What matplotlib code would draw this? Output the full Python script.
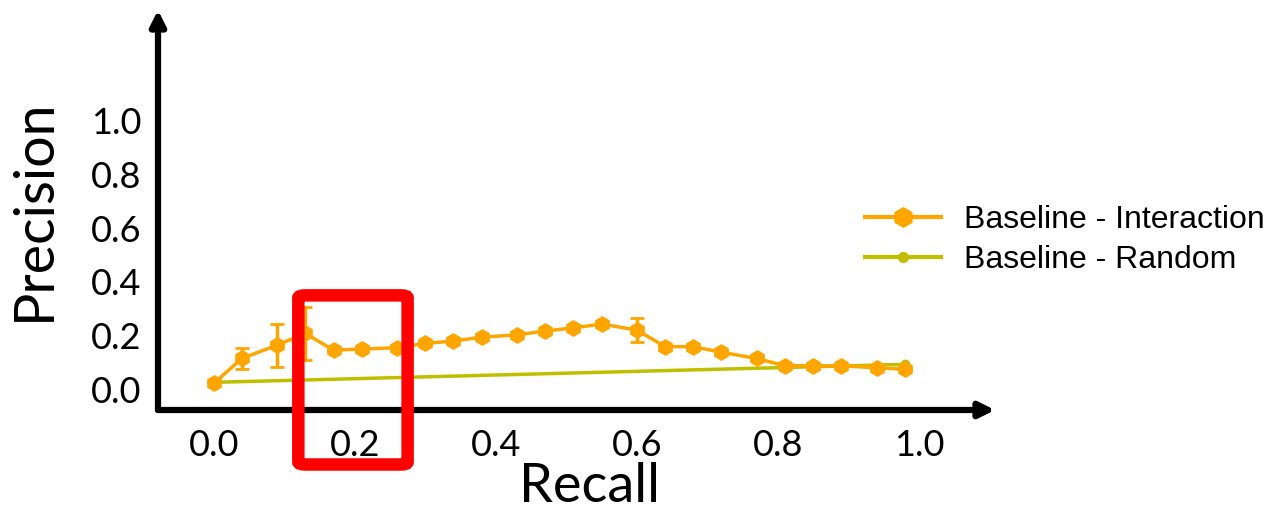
import matplotlib
matplotlib.use("Agg")
import matplotlib.pyplot as plt
import matplotlib.patheffects as pe
from matplotlib.patches import FancyBboxPatch
from matplotlib.lines import Line2D

# precision / recall curve, interaction baseline
recall = [0.00, 0.04, 0.09, 0.13, 0.17, 0.21, 0.26, 0.30, 0.34, 0.38, 0.43, 0.47,
          0.51, 0.55, 0.60, 0.64, 0.68, 0.72, 0.77, 0.81, 0.85, 0.89, 0.94, 0.98]
prec_inter = [0.022, 0.115, 0.165, 0.208, 0.146, 0.150, 0.155, 0.171, 0.180, 0.194, 0.203, 0.217,
              0.229, 0.243, 0.221, 0.159, 0.159, 0.138, 0.115, 0.088, 0.088, 0.088, 0.080, 0.075]
err_inter = [0, 0.04, 0.08, 0.10, 0, 0, 0, 0, 0, 0, 0, 0,
             0, 0, 0.045, 0, 0, 0, 0, 0, 0, 0, 0, 0]

# random baseline
recall_rand = [0.00, 0.98]
prec_rand = [0.026, 0.093]

ticks = [0.0, 0.2, 0.4, 0.6, 0.8, 1.0]
tick_labels = ["0.0", "0.2", "0.4", "0.6", "0.8", "1.0"]

orange = "#FFA500"
olive = "#BFBF00"

fig = plt.figure(figsize=(12.72, 5.19), dpi=100)
ax = fig.add_axes([158/1272, 109/519, 837/1272, 400/519])
ax.set_xlim(-0.079, 1.108)
ax.set_ylim(-0.077, 1.413)

ax.errorbar(recall, prec_inter, yerr=err_inter, color=orange, marker="h", markersize=11,
            lw=2.5, elinewidth=2.5, capsize=5, capthick=2, zorder=3)
ax.plot(recall_rand, prec_rand, color=olive, marker="o", markersize=6, lw=2.5, zorder=2)

for s in ax.spines.values():
    s.set_visible(False)

# arrow-headed axes with a soft shadow
arrow = dict(arrowstyle="-|>,head_length=0.9,head_width=0.45", color="black", lw=4.5,
             shrinkA=0, shrinkB=0)
a1 = ax.annotate("", xy=(1, 0), xytext=(0, 0), xycoords="axes fraction", arrowprops=arrow)
a2 = ax.annotate("", xy=(0, 1), xytext=(0, 0), xycoords="axes fraction", arrowprops=arrow)
for a in (a1, a2):
    a.arrow_patch.set_path_effects([pe.SimplePatchShadow(offset=(1.5, -1.5), alpha=0.4), pe.Normal()])

tick_font = dict(family=["Lato", "DejaVu Sans"], fontsize=26, color="black")
ax.set_xticks(ticks)
ax.set_xticklabels(tick_labels, **tick_font)
ax.set_yticks(ticks)
ax.set_yticklabels(tick_labels, **tick_font)
ax.tick_params(length=0)
ax.tick_params(axis="x", pad=14)
ax.tick_params(axis="y", pad=12)

ax.set_xlabel("Recall", family=["Lato", "DejaVu Sans"], fontsize=39)
ax.xaxis.set_label_coords(0.516, -0.13)
ax.set_ylabel("Precision", family=["Lato", "DejaVu Sans"], fontsize=40, labelpad=22)

handles = [Line2D([], [], color=orange, marker="h", markersize=14, lw=3),
           Line2D([], [], color=olive, marker="o", markersize=7, lw=3)]
ax.legend(handles, ["Baseline - Interaction", "Baseline - Random"],
          loc="center left", bbox_to_anchor=(0.81, 0.425), frameon=False,
          prop=dict(family="Liberation Sans", size=23), handlelength=2.4, handletextpad=0.7,
          labelspacing=0.3)

# highlight box around the low-recall region
box = FancyBboxPatch((0.12, -0.28), 0.155, 0.63, boxstyle="round,pad=0.0,rounding_size=0.01",
                     fill=False, edgecolor="#FF0000", lw=9, clip_on=False, zorder=5,
                     transform=ax.transData)
ax.add_patch(box)

fig.savefig("out.png", dpi=100)
